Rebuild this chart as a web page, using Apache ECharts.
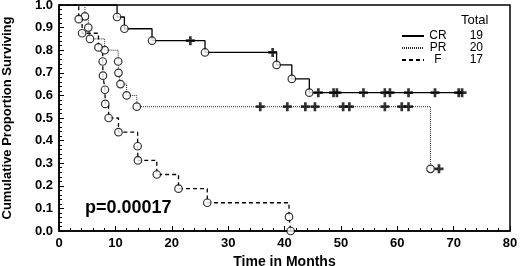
<!DOCTYPE html>
<html>
<head>
<meta charset="utf-8">
<script src="https://cdn.jsdelivr.net/npm/echarts@6/dist/echarts.min.js"></script>
<style>
  html, body { margin: 0; padding: 0; background: #fff; }
  #main { width: 520px; height: 266px; }
</style>
</head>
<body>
<div id="main"></div>
<script>
// group names and patient totals
var groups = ['CR', 'PR', 'F'];
var totals = [19, 20, 17];

// CR: event times (months) and survival after each event
var crTimes = [0, 10.3, 11.6, 16.5, 25.9, 38.6, 41.3, 44.4];
var crSurv  = [1, 0.947, 0.895, 0.842, 0.790, 0.735, 0.673, 0.612];
var crCens  = [23.3, 37.9, 46.0, 48.7, 49.3, 54.0, 57.8, 58.7, 62.0, 66.7, 70.9, 71.5];

// PR
var prTimes = [0, 4.6, 5.2, 5.5, 8.1, 10.5, 10.55, 10.9, 12.0, 13.8, 65.9];
var prSurv  = [1, 0.95, 0.90, 0.85, 0.80, 0.75, 0.70, 0.65, 0.60, 0.55, 0.275];
var prCens  = [35.7, 40.5, 43.7, 45.4, 50.4, 51.5, 57.8, 60.8, 62.0, 67.4];

// F
var fTimes = [0, 3.5, 4.1, 7.0, 7.75, 7.8, 8.15, 8.2, 8.8, 10.55, 13.95, 14.0, 17.35, 21.2, 26.3, 40.8, 41.1];
var fSurv  = [1, 0.9375, 0.875, 0.8125, 0.75, 0.6875, 0.625, 0.5625, 0.5, 0.4375, 0.375, 0.3125, 0.25, 0.1875, 0.125, 0.0625, 0];
var fCens  = [];

var pText = 'p=0.00017';

// survival level in effect at time t
function levelAt(times, surv, t) {
    var s = surv[0];
    for (var i = 0; i < times.length; i++) {
        if (times[i] <= t) s = surv[i];
    }
    return s;
}

function lineData(times, surv, cens) {
    var pts = [];
    for (var i = 0; i < times.length; i++) pts.push([times[i], surv[i]]);
    for (var j = 0; j < cens.length; j++) pts.push([cens[j], levelAt(times, surv, cens[j])]);
    pts.sort(function (a, b) { return a[0] - b[0]; });
    return pts;
}
function eventData(times, surv) {
    var pts = [];
    for (var i = 1; i < times.length; i++) pts.push([times[i], surv[i]]);
    return pts;
}
function censData(times, surv, cens) {
    return cens.map(function (t) { return [t, levelAt(times, surv, t)]; });
}

var font = '"Liberation Sans", Arial, Helvetica, sans-serif';
var plus = 'path://M3.5,0H6.5V3.5H10V6.5H6.5V10H3.5V6.5H0V3.5H3.5Z';

var styles = [
    { type: 'solid', width: 1.3, color: '#000' },
    { type: [1, 1], width: 1, color: '#222' },
    { type: [4, 3], width: 1.3, color: '#000' }
];
var sets = [
    [crTimes, crSurv, crCens],
    [prTimes, prSurv, prCens],
    [fTimes, fSurv, fCens]
];

var series = [];
sets.forEach(function (d, k) {
    series.push({
        name: groups[k],
        type: 'line',
        step: 'end',
        symbol: 'none',
        lineStyle: styles[k],
        itemStyle: { color: '#000' },
        data: lineData(d[0], d[1], d[2]),
        z: 2
    });
});
sets.forEach(function (d, k) {
    series.push({
        name: groups[k] + ' events',
        type: 'scatter',
        symbol: 'circle',
        symbolSize: 7.5,
        itemStyle: { color: '#fff', borderColor: '#000', borderWidth: 1.2 },
        data: eventData(d[0], d[1]),
        z: 4
    });
    series.push({
        name: groups[k] + ' censored',
        type: 'scatter',
        symbol: plus,
        symbolSize: 9,
        itemStyle: { color: '#000' },
        data: censData(d[0], d[1], d[2]),
        z: 3
    });
});

var chart = echarts.init(document.getElementById('main'));

var option = {
    animation: false,
    backgroundColor: '#fff',
    textStyle: { fontFamily: font, color: '#000' },
    grid: {
        left: 59,
        right: 10,
        top: 5,
        bottom: 35,
        outerBoundsMode: 'none',
        show: true,
        borderColor: '#000',
        borderWidth: 1.5
    },
    title: {
        text: 'Total',
        left: 456,
        top: 9,
        textStyle: { fontFamily: font, fontSize: 13, fontWeight: 'normal', color: '#000' }
    },
    legend: {
        data: groups,
        orient: 'vertical',
        left: 396,
        top: 25,
        itemWidth: 22,
        itemHeight: 8,
        itemGap: 0,
        selectedMode: false,
        itemStyle: { opacity: 0 },
        formatter: function (name) {
            return '{n|' + name + '}{t|' + totals[groups.indexOf(name)] + '}';
        },
        textStyle: {
            fontFamily: font,
            fontSize: 12,
            color: '#000',
            rich: {
                n: { width: 18, align: 'center', fontSize: 12, lineHeight: 13.6, fontFamily: font },
                t: { width: 36, align: 'right', fontSize: 12, lineHeight: 13.6, fontFamily: font }
            }
        }
    },
    graphic: [{
        type: 'text',
        left: 85,
        top: 199,
        style: { text: pText, font: 'bold 18px ' + font, fill: '#000' }
    }],
    xAxis: {
        type: 'value',
        min: 0,
        max: 80,
        interval: 10,
        name: 'Time in Months',
        nameLocation: 'middle',
        nameGap: 21,
        nameTextStyle: { fontFamily: font, fontSize: 14, fontWeight: 'bold', color: '#000' },
        axisLine: { show: true, lineStyle: { color: '#000', width: 1.5 } },
        axisTick: { show: true, inside: true, length: 5, lineStyle: { color: '#000' } },
        minorTick: { show: true, splitNumber: 5, length: 3, lineStyle: { color: '#000' } },
        splitLine: { show: false },
        axisLabel: { margin: 6, fontFamily: font, fontSize: 13, fontWeight: 'bold', color: '#000' }
    },
    yAxis: {
        type: 'value',
        min: 0,
        max: 1,
        interval: 0.1,
        name: 'Cumulative Proportion Surviving',
        nameLocation: 'middle',
        nameGap: 45,
        nameTextStyle: { fontFamily: font, fontSize: 13, fontWeight: 'bold', color: '#000' },
        axisLine: { show: true, lineStyle: { color: '#000', width: 1.5 } },
        axisTick: { show: true, inside: true, length: 5, lineStyle: { color: '#000' } },
        minorTick: { show: true, splitNumber: 5, length: 3, lineStyle: { color: '#000' } },
        splitLine: { show: false },
        axisLabel: {
            margin: 6, fontFamily: font, fontSize: 13, fontWeight: 'bold', color: '#000',
            formatter: function (v) { return v.toFixed(1); }
        }
    },
    series: series
};

chart.setOption(option);
</script>
</body>
</html>
